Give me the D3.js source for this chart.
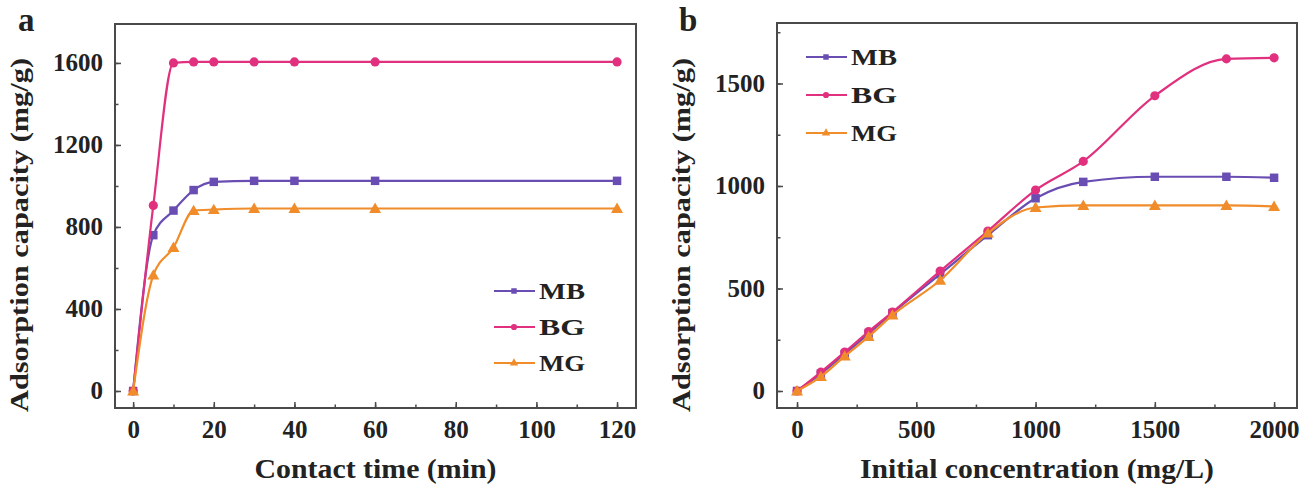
<!DOCTYPE html>
<html>
<head>
<meta charset="utf-8">
<script src="https://cdn.jsdelivr.net/npm/d3@7"></script>
<style>
  html, body { margin: 0; padding: 0; background: #fff; }
  svg { display: block; }
  text { font-family: "Liberation Serif", "Times New Roman", serif; font-weight: bold; fill: #222; }
</style>
</head>
<body>
<svg id="chart" width="1311" height="487"></svg>
<script>
// Series names and colours
const seriesNames = ["MB", "BG", "MG"];
const seriesColors = ["#6a4db2", "#e0307e", "#f08c2a"];
const seriesSymbols = ["square", "circle", "triangle"];

// Panel a: adsorption kinetics
const timeMin = [0, 5, 10, 15, 20, 30, 40, 60, 120];
const kineticMB = [0, 760, 880, 980, 1020, 1025, 1025, 1025, 1025];
const kineticBG = [0, 905, 1600, 1605, 1605, 1605, 1605, 1605, 1605];
const kineticMG = [0, 565, 700, 880, 885, 890, 890, 890, 890];
const timeTicks = [0, 20, 40, 60, 80, 100, 120];
const kineticYTicks = [0, 400, 800, 1200, 1600];

// Panel b: adsorption isotherms
const concMgL = [0, 100, 200, 300, 400, 600, 800, 1000, 1200, 1500, 1800, 2000];
const isoMB = [0, 85, 180, 280, 380, 570, 760, 940, 1020, 1045, 1045, 1040];
const isoBG = [0, 92, 190, 290, 385, 585, 780, 980, 1120, 1440, 1620, 1625];
const isoMG = [0, 70, 170, 265, 370, 540, 770, 895, 905, 905, 905, 900];
const concTicks = [0, 500, 1000, 1500, 2000];
const isoYTicks = [0, 500, 1000, 1500];

const svg = d3.select("#chart");

const symbolTypes = { square: d3.symbolSquare, circle: d3.symbolCircle, triangle: d3.symbolTriangle };
const symbolSizes = { square: 72, circle: 66, triangle: 62 };
const fmt = d3.format("d");

function styleText(sel, size) {
  sel.attr("font-size", size).attr("font-family", "Liberation Serif")
    .attr("font-weight", "bold").attr("fill", "#222");
}

function drawPanel(cfg) {
  const g = svg.append("g");
  const x = d3.scaleLinear().domain(cfg.xDomain).range([cfg.left, cfg.right]);
  const y = d3.scaleLinear().domain(cfg.yDomain).range([cfg.bottom, cfg.top]);

  // series lines and markers
  cfg.series.forEach((vals, i) => {
    const pts = cfg.xs.map((d, j) => [d, vals[j]]);
    const line = d3.line().x(d => x(d[0])).y(d => y(d[1])).curve(d3.curveMonotoneX);
    g.append("path").attr("d", line(pts)).attr("fill", "none")
      .attr("stroke", seriesColors[i]).attr("stroke-width", 2.2);
    const sym = d3.symbol().type(symbolTypes[seriesSymbols[i]]).size(symbolSizes[seriesSymbols[i]]);
    g.selectAll(null).data(pts).enter().append("path")
      .attr("d", sym)
      .attr("transform", d => `translate(${x(d[0])},${y(d[1]) + (seriesSymbols[i] === "triangle" ? 1 : 0)})`)
      .attr("fill", seriesColors[i]);
  });

  // axes with inward ticks
  const axisColor = "#4a4a4a";
  const xMinor = d3.range(0, cfg.xDomain[1], cfg.xMinorStep);
  const yMinor = d3.range(0, cfg.yDomain[1], cfg.yMinorStep);

  const xAxisMinor = d3.axisBottom(x).tickValues(xMinor).tickSize(-3.5).tickFormat("");
  const xAxis = d3.axisBottom(x).tickValues(cfg.xTicks).tickSize(-6).tickPadding(12).tickFormat(fmt);
  const yAxisMinor = d3.axisLeft(y).tickValues(yMinor).tickSize(-3.5).tickFormat("");
  const yAxis = d3.axisLeft(y).tickValues(cfg.yTicks).tickSize(-6).tickPadding(12).tickFormat(fmt);

  [xAxisMinor, xAxis].forEach(ax => {
    const a = g.append("g").attr("transform", `translate(0,${cfg.bottom})`).call(ax);
    a.select(".domain").remove();
    a.selectAll("line").attr("stroke", axisColor).attr("stroke-width", 1.5);
    styleText(a.selectAll("text"), 25);
  });
  [yAxisMinor, yAxis].forEach(ax => {
    const a = g.append("g").attr("transform", `translate(${cfg.left},0)`).call(ax);
    a.select(".domain").remove();
    a.selectAll("line").attr("stroke", axisColor).attr("stroke-width", 1.5);
    styleText(a.selectAll("text"), 25);
  });

  // frame
  g.append("rect").attr("x", cfg.left).attr("y", cfg.top)
    .attr("width", cfg.right - cfg.left).attr("height", cfg.bottom - cfg.top)
    .attr("fill", "none").attr("stroke", axisColor).attr("stroke-width", 2);

  // axis titles
  g.append("text").attr("x", (cfg.left + cfg.right) / 2).attr("y", cfg.bottom + 70)
    .attr("text-anchor", "middle").attr("font-size", 28)
    .attr("textLength", cfg.xTitleLen).attr("lengthAdjust", "spacingAndGlyphs")
    .text(cfg.xTitle);
  g.append("text")
    .attr("transform", `translate(${cfg.left - 87},235) rotate(-90)`)
    .attr("text-anchor", "middle").attr("font-size", 26)
    .attr("textLength", 354).attr("lengthAdjust", "spacingAndGlyphs")
    .text("Adsorption capacity (mg/g)");

  // panel letter
  g.append("text").attr("x", cfg.letterX).attr("y", 31).attr("font-size", 33).text(cfg.letter);

  // legend
  seriesNames.forEach((name, i) => {
    const ly = cfg.legendY + i * cfg.legendGap;
    g.append("line").attr("x1", cfg.legendX).attr("x2", cfg.legendX + 41)
      .attr("y1", ly).attr("y2", ly).attr("stroke", seriesColors[i]).attr("stroke-width", 2.2);
    g.append("path").attr("d", d3.symbol().type(symbolTypes[seriesSymbols[i]]).size(30)())
      .attr("transform", `translate(${cfg.legendX + 20},${ly})`).attr("fill", seriesColors[i]);
    g.append("text").attr("x", cfg.legendX + 45).attr("y", ly + 8).attr("font-size", 23)
      .attr("textLength", 46).attr("lengthAdjust", "spacingAndGlyphs").text(name);
  });
}

drawPanel({
  left: 115, right: 636, top: 24, bottom: 408,
  xDomain: [-4.5, 124.7], yDomain: [-83, 1790],
  xs: timeMin, series: [kineticMB, kineticBG, kineticMG],
  xTicks: timeTicks, yTicks: kineticYTicks, xMinorStep: 10, yMinorStep: 200,
  xTitle: "Contact time (min)", xTitleLen: 242, letter: "a", letterX: 18,
  legendX: 494, legendY: 291, legendGap: 36
});

drawPanel({
  left: 777, right: 1297, top: 23, bottom: 408,
  xDomain: [-84, 2096], yDomain: [-83, 1795],
  xs: concMgL, series: [isoMB, isoBG, isoMG],
  xTicks: concTicks, yTicks: isoYTicks, xMinorStep: 250, yMinorStep: 250,
  xTitle: "Initial concentration (mg/L)", xTitleLen: 354, letter: "b", letterX: 679,
  legendX: 806, legendY: 57, legendGap: 38
});
</script>
</body>
</html>
